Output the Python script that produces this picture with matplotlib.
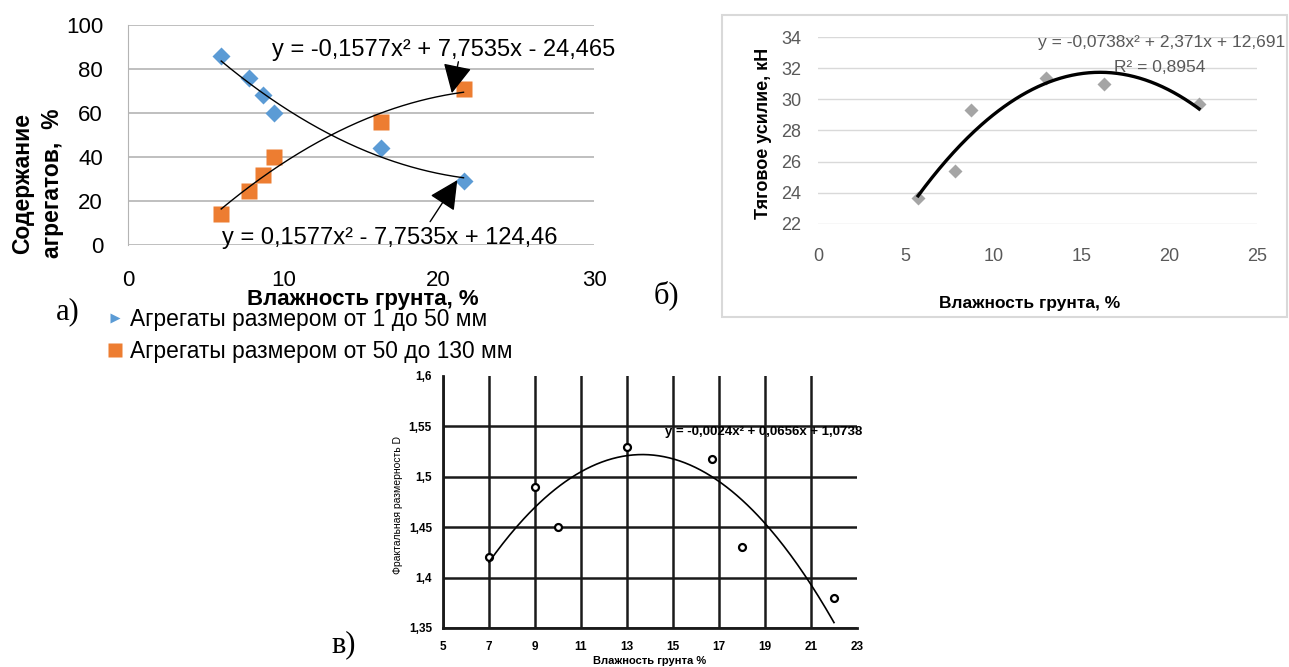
import numpy as np
import matplotlib
matplotlib.use('Agg')
import matplotlib.pyplot as plt
from matplotlib.lines import Line2D
from matplotlib.patches import Rectangle

plt.rcParams['font.family'] = ['Liberation Sans', 'DejaVu Sans']
plt.rcParams['axes.unicode_minus'] = False

W, H = 1289, 667

# --- а) содержание агрегатов ---
a_x = [6.0, 7.8, 8.7, 9.4, 16.3, 21.6]
a_small = [86, 76, 68, 60, 44, 29]        # 1..50 мм
a_large = [14, 24.5, 32, 40, 56, 71]      # 50..130 мм
a_small_fit = [0.1577, -7.7535, 124.46]
a_large_fit = [-0.1577, 7.7535, -24.465]
a_xticks = [0, 10, 20, 30]
a_yticks = [0, 20, 40, 60, 80, 100]

# --- б) тяговое усилие ---
b_x = [5.7, 7.8, 8.7, 13.0, 16.3, 21.7]
b_y = [23.7, 25.4, 29.3, 31.4, 31.0, 29.7]
b_fit = [-0.0738, 2.371, 12.691]
b_xticks = [0, 5, 10, 15, 20, 25]
b_yticks = [22, 24, 26, 28, 30, 32, 34]

# --- в) фрактальная размерность ---
c_x = [7, 9, 10, 13, 16.7, 18, 22]
c_y = [1.42, 1.49, 1.45, 1.53, 1.518, 1.43, 1.38]
c_fit = [-0.0024, 0.0656, 1.0738]
c_xticks = [5, 7, 9, 11, 13, 15, 17, 19, 21, 23]
c_yticks = [1.35, 1.4, 1.45, 1.5, 1.55, 1.6]
c_ylabels = ['1,35', '1,4', '1,45', '1,5', '1,55', '1,6']


def px_axes(fig, x0, y0, x1, y1):
    return fig.add_axes([x0 / W, 1 - y1 / H, (x1 - x0) / W, (y1 - y0) / H])


def ftext(x, y, s, **kw):
    # текст в пикселях от левого верхнего угла
    return fig.text(x / W, 1 - y / H, s, **kw)


fig = plt.figure(figsize=(W / 100, H / 100), dpi=100)

# ================= а) =================
ax = px_axes(fig, 128, 25, 594, 245)
ax.set_xlim(0, 30)
ax.set_ylim(0, 100)
ax.set_xticks(a_xticks)
ax.set_yticks(a_yticks)
ax.yaxis.grid(True, color='#b4b4b4', lw=1.2)
ax.set_axisbelow(True)
for s in ['top', 'right', 'bottom']:
    ax.spines[s].set_visible(False)
ax.spines['left'].set_color('#b4b4b4')
ax.tick_params(length=0, labelsize=16)
ax.tick_params(axis='x', pad=18)
ax.tick_params(axis='y', pad=18)

ax.plot(a_x, a_small, 'D', color='#5B9BD5', ms=9, mec='none', zorder=3)
ax.plot(a_x, a_large, 's', color='#ED7D31', ms=11.5, mec='none', zorder=3)
xs = np.linspace(min(a_x), max(a_x), 200)
ax.plot(xs, np.polyval(a_small_fit, xs), color='black', lw=1, zorder=4)
ax.plot(xs, np.polyval(a_large_fit, xs), color='black', lw=1, zorder=4)

ax.text(9.27, 88.6, 'y = -0,1577x² + 7,7535x - 24,465', fontsize=17,
        va='center', ha='left', clip_on=False)
ax.text(6.05, 3.2, 'y = 0,1577x² - 7,7535x + 124,46', fontsize=17,
        va='center', ha='left', clip_on=False)
arr = dict(arrowstyle='-|>,head_length=0.9,head_width=0.45', color='black',
           lw=1, mutation_scale=20, shrinkA=0, shrinkB=0)
ax.annotate('', xy=(20.85, 69.0), xytext=(21.27, 83.3), arrowprops=arr)
ax.annotate('', xy=(21.2, 29.5), xytext=(19.45, 10.6), arrowprops=arr)

ftext(363, 300, 'Влажность грунта, %', fontsize=16, fontweight='bold',
      ha='center', va='center')
ftext(23, 183, 'Содержание', rotation=90, fontsize=16.5,
      fontweight='bold', ha='center', va='center')
ftext(53, 183, 'агрегатов,  %', rotation=90, fontsize=16.5,
      fontweight='bold', ha='center', va='center')

handles = [Line2D([], [], ls='none', marker='>', color='#5B9BD5', ms=7, mec='none'),
           Line2D([], [], ls='none', marker='s', color='#ED7D31', ms=10.5, mec='none')]
fig.legend(handles, ['Агрегаты размером от 1 до 50 мм', 'Агрегаты размером от 50 до 130 мм'],
           loc='upper left', bbox_to_anchor=(106 / W, 1 - 308 / H), frameon=False,
           fontsize=16.4, handlelength=0.8, handletextpad=0.25, labelspacing=0.4,
           borderpad=0, borderaxespad=0)

ftext(68, 312, 'а)', fontsize=22, family='Liberation Serif', ha='center', va='center')

# ================= б) =================
fig.patches.append(Rectangle((722 / W, 1 - 317 / H), (1287 - 722) / W, (317 - 15) / H,
                             transform=fig.transFigure, fill=False, ec='#d9d9d9', lw=1.5))
bx = px_axes(fig, 818, 37, 1257, 224)
bx.set_xlim(0, 25)
bx.set_ylim(22, 34)
bx.set_xticks(b_xticks)
bx.set_yticks(b_yticks)
bx.yaxis.grid(True, color='#d9d9d9', lw=1)
bx.set_axisbelow(True)
for s in bx.spines.values():
    s.set_visible(False)
bx.tick_params(length=0, labelsize=13, labelcolor='#595959')
bx.tick_params(axis='x', pad=17)
bx.tick_params(axis='y', pad=12)
bx.plot(b_x, b_y, 'D', color='#a5a5a5', ms=7, mec='none', zorder=3)
xs = np.linspace(min(b_x), max(b_x), 200)
bx.plot(xs, np.polyval(b_fit, xs), color='black', lw=2.4, zorder=4)
ftext(1285, 43, 'y = -0,0738x² + 2,371x + 12,691', fontsize=12.5, color='#595959',
      ha='right', va='center')
ftext(1160, 67, 'R² = 0,8954', fontsize=12.5, color='#595959', ha='center', va='center')
ftext(1030, 304, 'Влажность грунта, %', fontsize=12.5, fontweight='bold',
      ha='center', va='center')
ftext(763, 133, 'Тяговое усилие, кН', rotation=90, fontsize=13, fontweight='bold',
      ha='center', va='center')
ftext(666, 295, 'б)', fontsize=22, family='Liberation Serif', ha='center', va='center')

# ================= в) =================
cx = px_axes(fig, 443, 376, 857, 628)
cx.set_xlim(5, 23)
cx.set_ylim(1.35, 1.6)
cx.set_xticks(c_xticks)
cx.set_yticks(c_yticks)
cx.set_yticklabels(c_ylabels)
cx.grid(True, color='#1a1a1a', lw=1.8)
cx.xaxis.get_gridlines()[-1].set_visible(False)
cx.yaxis.get_gridlines()[-1].set_visible(False)
cx.set_axisbelow(True)
for s in ['top', 'right']:
    cx.spines[s].set_visible(False)
for s in ['left', 'bottom']:
    cx.spines[s].set_linewidth(2)
    cx.spines[s].set_color('#1a1a1a')
cx.tick_params(length=0, labelsize=8.5)
for lab in cx.get_xticklabels() + cx.get_yticklabels():
    lab.set_fontweight('bold')
cx.tick_params(axis='x', pad=9)
cx.tick_params(axis='y', pad=8)
cx.plot(c_x, c_y, 'o', mfc='white', mec='black', ms=5, mew=1.6, zorder=3)
xs = np.linspace(min(c_x), max(c_x), 200)
cx.plot(xs, np.polyval(c_fit, xs), color='black', lw=1.2, zorder=4)
ftext(862, 432, 'y = -0,0024x² + 0,0656x + 1,0738', fontsize=9.5, fontweight='bold',
      ha='right', va='center')
ftext(650, 661, 'Влажность грунта %', fontsize=8, fontweight='bold',
      ha='center', va='center')
ftext(398, 505, 'Фрактальная размерность D', rotation=90, fontsize=7.5,
      ha='center', va='center')
ftext(344, 645, 'в)', fontsize=22, family='Liberation Serif', ha='center', va='center')

fig.savefig('out.png', dpi=100)
